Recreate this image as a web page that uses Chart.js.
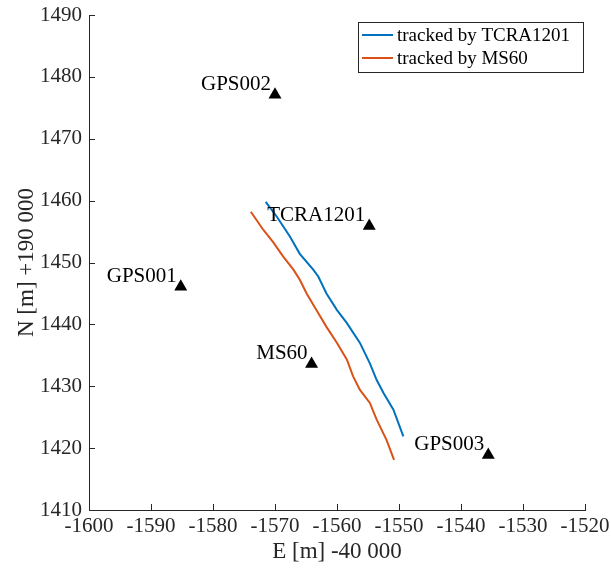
<!DOCTYPE html>
<html>
<head>
<meta charset="utf-8">
<script src="https://cdn.jsdelivr.net/npm/chart.js@4/dist/chart.umd.min.js"></script>
<style>
html,body{margin:0;padding:0;background:#fff;}
#wrap{width:611px;height:572px;}
</style>
</head>
<body>
<div id="wrap"><canvas id="c" width="611" height="572"></canvas></div>
<script>
// ---- data ----
const xTicks = [-1600, -1590, -1580, -1570, -1560, -1550, -1540, -1530, -1520];
const yTicks = [1410, 1420, 1430, 1440, 1450, 1460, 1470, 1480, 1490];

const tcraE = [-1571.5, -1569.7, -1567.6, -1566.0, -1563.8, -1563.0, -1561.7, -1560.0, -1558.4, -1556.3, -1554.7, -1553.6, -1552.5, -1550.9, -1549.3];
const tcraN = [1459.8, 1457.4, 1454.2, 1451.4, 1448.8, 1447.7, 1445.0, 1442.3, 1440.2, 1437.0, 1433.7, 1431.0, 1428.9, 1426.2, 1421.9];

const ms60E = [-1573.9, -1571.9, -1570.3, -1568.7, -1567.0, -1566.0, -1564.9, -1563.3, -1561.7, -1560.0, -1558.4, -1557.4, -1556.3, -1554.7, -1553.6, -1552.0, -1550.8];
const ms60N = [1458.2, 1455.3, 1453.3, 1451.0, 1448.8, 1447.2, 1445.0, 1442.3, 1439.6, 1437.0, 1434.3, 1431.6, 1429.4, 1427.3, 1424.6, 1421.3, 1418.1];

const stationNames = ['GPS001', 'GPS002', 'GPS003', 'TCRA1201', 'MS60'];
const stationE = [-1585.2, -1570.0, -1535.6, -1554.8, -1564.1];
const stationN = [1446.1, 1477.1, 1418.9, 1455.9, 1433.6];

const seriesLabels = ['tracked by TCRA1201', 'tracked by MS60'];

// ---- chart ----
const FONT = '"Liberation Serif", "Times New Roman", serif';
const AX = '#262626';
const zip = (xs, ys) => xs.map((x, i) => ({x: x, y: ys[i]}));

const inwardTicks = {
  id: 'inwardTicks',
  afterDraw(chart) {
    const ctx = chart.ctx, xs = chart.scales.x, ys = chart.scales.y;
    const a = chart.chartArea, L = 6;
    ctx.save();
    ctx.strokeStyle = AX; ctx.lineWidth = 1;
    ctx.beginPath();
    xTicks.forEach(v => { const p = Math.round(xs.getPixelForValue(v)) + 0.5; ctx.moveTo(p, a.bottom); ctx.lineTo(p, a.bottom - L); });
    yTicks.forEach(v => { const p = Math.round(ys.getPixelForValue(v)) + 0.5; ctx.moveTo(a.left, p); ctx.lineTo(a.left + L, p); });
    ctx.stroke();
    ctx.restore();
  }
};

const stationLabels = {
  id: 'stationLabels',
  afterDatasetsDraw(chart) {
    const ctx = chart.ctx, xs = chart.scales.x, ys = chart.scales.y;
    ctx.save();
    ctx.font = '21px ' + FONT;
    ctx.fillStyle = '#000';
    ctx.textAlign = 'right';
    ctx.textBaseline = 'alphabetic';
    stationNames.forEach((n, i) => {
      ctx.fillText(n, xs.getPixelForValue(stationE[i]) - 4, ys.getPixelForValue(stationN[i]) - 5);
    });
    ctx.restore();
  }
};

const boxLegend = {
  id: 'boxLegend',
  afterDraw(chart) {
    const ctx = chart.ctx;
    const x0 = 358, y0 = 22, w = 225, h = 50;
    ctx.save();
    ctx.fillStyle = '#fff';
    ctx.fillRect(x0, y0, w, h);
    ctx.strokeStyle = AX; ctx.lineWidth = 1;
    ctx.strokeRect(x0 + 0.5, y0 + 0.5, w, h);
    ctx.font = '19px ' + FONT;
    ctx.textBaseline = 'middle';
    ctx.textAlign = 'left';
    [0, 1].forEach(i => {
      const ds = chart.data.datasets[i];
      const yy = y0 + 13 + i * 23;
      ctx.strokeStyle = ds.borderColor; ctx.lineWidth = 2;
      ctx.beginPath(); ctx.moveTo(x0 + 4, yy); ctx.lineTo(x0 + 35, yy); ctx.stroke();
      ctx.fillStyle = '#000';
      ctx.fillText(ds.label, x0 + 39, yy + 1);
    });
    ctx.restore();
  }
};

new Chart(document.getElementById('c'), {
  type: 'scatter',
  data: {
    datasets: [
      {label: seriesLabels[0], data: zip(tcraE, tcraN), showLine: true, borderColor: '#0072BD', borderWidth: 2, pointRadius: 0, fill: false, tension: 0},
      {label: seriesLabels[1], data: zip(ms60E, ms60N), showLine: true, borderColor: '#D95319', borderWidth: 2, pointRadius: 0, fill: false, tension: 0},
      {label: 'stations', data: zip(stationE, stationN), showLine: false, pointStyle: 'triangle', pointRadius: 7.5, backgroundColor: '#000', borderColor: '#000', borderWidth: 0}
    ]
  },
  options: {
    responsive: false,
    animation: false,
    devicePixelRatio: 1,
    layout: {padding: {top: 0, right: 0, left: 0, bottom: 0}},
    plugins: {legend: {display: false}, tooltip: {enabled: false}},
    scales: {
      x: {
        type: 'linear', min: -1600, max: -1520,
        afterBuildTicks: s => { s.ticks = xTicks.map(v => ({value: v})); },
        afterFit: s => { s.height = 62; s.paddingRight = 26; },
        grid: {display: false, drawTicks: false},
        border: {display: true, color: AX, width: 1},
        ticks: {color: AX, font: {family: FONT, size: 21}, padding: 4, maxRotation: 0, autoSkip: false, callback: v => String(v)},
        title: {display: true, text: 'E [m] -40 000', color: AX, font: {family: FONT, size: 23}, padding: {top: 0, bottom: 6}}
      },
      y: {
        type: 'linear', min: 1410, max: 1490,
        afterBuildTicks: s => { s.ticks = yTicks.map(v => ({value: v})); },
        afterFit: s => { s.width = 89; s.paddingTop = 15; },
        grid: {display: false, drawTicks: false},
        border: {display: true, color: AX, width: 1},
        ticks: {color: AX, font: {family: FONT, size: 21}, padding: 7, autoSkip: false, callback: v => String(v)},
        title: {display: true, text: 'N [m] +190 000', color: AX, font: {family: FONT, size: 23}, padding: {top: 13, bottom: 0}}
      }
    }
  },
  plugins: [inwardTicks, stationLabels, boxLegend]
});
</script>
</body>
</html>
